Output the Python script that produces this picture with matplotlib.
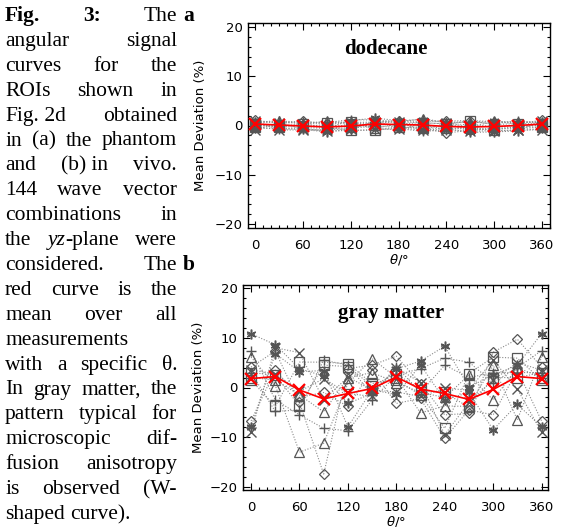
import numpy as np
import matplotlib
matplotlib.use('Agg')
import matplotlib.pyplot as plt
from matplotlib.ticker import MultipleLocator
from matplotlib.transforms import IdentityTransform

# angles (deg)
theta = [0, 30, 60, 90, 120, 150, 180, 210, 240, 270, 300, 330, 360]

# marker of each single curve (IDL style symbols)
markers = ['ast', 'ast', '+', '+', 'D', 'D', '^', '^', 's', 's', 'x', 'x']

# (a) dodecane phantom, single curves (%)
dodecane = [
    [0.8, 0.6, 0.5, -0.5, 1.0, 1.5, 1.0, 1.2, 0.6, -0.4, 0.9, 0.5, 0.8],
    [-0.6, -0.5, -0.8, -1.3, -0.8, 0.9, -0.5, -0.9, -0.7, -1.4, -1.3, -1.1, -0.6],
    [0.5, 0.9, 0.7, 0.6, 1.2, 1.1, 0.8, 0.5, 0.4, 0.7, 0.4, 0.9, 0.5],
    [-0.3, -0.8, -0.6, -1.1, -1.0, -0.9, -0.6, -1.2, -0.9, -1.0, -0.6, -0.7, -0.3],
    [1.1, 0.4, 0.9, 0.3, 0.6, 0.7, 1.0, 0.8, 0.9, 1.0, 0.8, 0.3, 1.1],
    [0.2, -0.2, -0.4, -0.6, -0.5, -0.2, -0.3, -0.6, -1.5, -1.0, -0.5, -0.4, 0.2],
    [0.6, 1.0, 0.3, 0.9, 0.4, 0.5, 0.7, 1.4, 0.6, 0.8, 0.7, 0.8, 0.6],
    [-0.1, 0.2, -0.2, 0.2, -0.3, 0.1, 0.2, -0.2, -0.1, 0.3, -0.3, 0.1, -0.1],
    [0.3, -0.3, 0.4, 0.5, 0.8, -0.5, 0.3, 0.6, 0.3, 0.9, 0.2, 0.4, 0.3],
    [-0.4, 0.0, -0.1, -0.4, -1.0, -0.9, -0.3, -0.5, -0.6, -0.5, -0.9, -0.2, -0.4],
    [0.9, -0.9, -0.9, -0.8, -0.7, 0.8, 0.7, -1.0, 0.5, -1.2, -1.0, -1.0, 0.9],
    [-0.9, 0.5, -0.7, -1.2, 0.6, -0.7, -0.8, 0.3, -0.9, -0.2, -1.2, -0.9, -0.9],
]
dodecane_mean = [0.3, 0.1, -0.1, -0.3, -0.1, 0.3, 0.2, 0.1, -0.2, -0.3, -0.2, 0.0, 0.3]

# (b) gray matter in vivo, single curves (%)
gray_matter = [
    [10.8, 8.6, 3.8, 2.3, -3.2, -1.2, 3.8, 5.3, 8.3, 0.1, 2.5, 4.5, 10.8],
    [-7.9, 6.8, 3.2, 3.4, -7.9, -0.5, -1.4, 4.5, -2.5, -1.0, -8.5, -3.4, -7.9],
    [7.4, -2.5, -5.5, -8.2, -8.7, -2.5, 2.5, 3.8, 5.9, 5.1, 1.0, 4.0, 7.4],
    [3.0, -4.8, -4.5, 5.5, 4.5, -1.5, 4.2, -1.0, 4.5, 2.0, 3.0, 3.0, 3.0],
    [4.1, 7.3, -3.0, -17.4, 3.8, 4.5, 6.3, 0.8, -5.5, -5.2, 7.1, 9.7, 4.1],
    [-6.7, 3.5, -2.0, -1.0, -3.8, 3.5, -3.2, -2.2, -10.2, -4.5, -5.5, 3.5, -6.7],
    [6.1, 0.4, -13.0, -11.2, 0.8, 5.8, 2.0, -5.1, -3.7, -3.8, 4.5, -6.5, 6.1],
    [2.0, 1.5, -1.5, -4.9, 2.0, 3.0, 1.0, -1.0, -2.0, 2.5, -2.5, 4.0, 2.0],
    [1.5, -3.8, 5.1, 5.1, 4.8, 0.8, 1.5, -1.5, -8.2, 2.8, 6.1, 5.9, 1.5],
    [3.0, 2.5, -3.7, 4.5, 4.2, 0.3, 2.8, -0.5, -1.0, -4.0, 2.0, 2.0, 3.0],
    [-9.0, 8.0, 7.0, -2.5, 2.1, -0.5, -0.9, -1.8, -0.2, -0.5, 5.5, -0.3, -9.0],
    [3.5, 2.8, -0.8, 1.8, -1.2, -1.8, 4.0, 1.0, -9.5, -3.0, 1.5, 5.0, 3.5],
]
gray_mean = [1.8, 2.2, -0.5, -2.3, -1.2, -0.2, 2.1, -0.3, -1.2, -2.4, -0.4, 2.2, 1.8]

caption = [
    ("*Fig. *3: The", True),
    ("angular signal", True),
    ("curves for the", True),
    ("ROIs shown in", True),
    ("Fig.~2d obtained", True),
    ("in (a) the phantom", True),
    ("and (b)~in vivo.", True),
    ("144 wave vector", True),
    ("combinations in", True),
    ("the /yz~-plane were", True),
    ("considered. The", True),
    ("red curve is the", True),
    ("mean over all", True),
    ("measurements", False),
    ("with a specific \u03b8.", True),
    ("In gray matter, the", True),
    ("pattern typical for", True),
    ("microscopic dif-", True),
    ("fusion anisotropy", True),
    ("is observed (W-", True),
    ("shaped curve).", False),
]

W, H = 567, 527
fig = plt.figure(figsize=(W / 100, H / 100), dpi=100)
renderer = fig.canvas.get_renderer()

serif = 'Liberation Serif'
cap_size = 15.5


def seg_props(seg):
    if seg.startswith('*'):
        return seg[1:], dict(weight='bold', style='normal')
    if seg.startswith('/'):
        return seg[1:], dict(weight='normal', style='italic')
    return seg, dict(weight='normal', style='normal')


def draw_line(text, justify, baseline, x0=5, x1=177):
    # words split on spaces; "~" glues segments (with a space unless next starts with "-")
    pieces = [[s for s in w.split('~') if s] for w in text.split(' ')]
    items = []
    widths = []
    for segs in pieces:
        ws = []
        group = []
        for k, s in enumerate(segs):
            txt, props = seg_props(s)
            if k > 0 and not txt.startswith('-'):
                txt = ' ' + txt
            t = fig.text(0, 0, txt, transform=IdentityTransform(), family=serif,
                         fontsize=cap_size, va='baseline', ha='left', **props)
            ws.append(t.get_window_extent(renderer).width)
            group.append(t)
        items.append((group, ws))
        widths.append(sum(ws))
    space = 0.25 * cap_size * 100 / 72
    if justify and len(items) > 1:
        gap = max(space * 0.8, (x1 - x0 - sum(widths)) / (len(items) - 1))
    else:
        gap = space
    x = x0
    yb = H - baseline
    for group, ws in items:
        for t, w in zip(group, ws):
            t.set_position((x, yb))
            x += w
        x += gap


for i, (line, just) in enumerate(caption):
    draw_line(line, just, 21 + i * 24.9)

# panel letters
fig.text(183, H - 21, 'a', transform=IdentityTransform(), family=serif,
         fontsize=cap_size, weight='bold', va='baseline')
fig.text(183, H - (21 + 10 * 24.9), 'b', transform=IdentityTransform(), family=serif,
         fontsize=cap_size, weight='bold', va='baseline')


def draw_marker(ax, x, y, m, color, ms, zorder):
    if m == 'ast':
        ax.plot(x, y, linestyle='none', marker=(6, 2, 0), ms=ms, mew=1.1,
                color=color, zorder=zorder)
        ax.plot(x, y, linestyle='none', marker='_', ms=ms * 0.9, mew=1.1,
                color=color, zorder=zorder)
    elif m in ('+', 'x'):
        ax.plot(x, y, linestyle='none', marker=m, ms=ms, mew=1.0,
                color=color, zorder=zorder)
    else:
        ax.plot(x, y, linestyle='none', marker=m, ms=ms * (0.8 if m == 'D' else 1.0),
                mew=0.9, mfc='none', mec=color, zorder=zorder)


def panel(rect, curves, mean, title, title_xy, xlim, ylim, ylab_x):
    ax = fig.add_axes(rect)
    for vals in curves:
        ax.plot(theta, vals, linestyle=(0, (1, 1.5)), lw=0.8, color='#8a8a8a', zorder=2)
    for vals, m in zip(curves, markers):
        draw_marker(ax, theta, vals, m, '#555555', 7, 3)
    ax.plot(theta, mean, color='#ff0000', lw=1.2, marker='x', ms=8, mew=1.6, zorder=5)

    ax.set_xlim(*xlim)
    ax.set_ylim(*ylim)
    ax.set_xticks([0, 60, 120, 180, 240, 300, 360])
    ax.set_yticks([-20, -10, 0, 10, 20])
    ax.xaxis.set_minor_locator(MultipleLocator(10))
    ax.yaxis.set_minor_locator(MultipleLocator(2))
    ax.tick_params(which='both', direction='in', top=True, right=True,
                   labelsize=9.5, width=0.8)
    ax.tick_params(which='major', length=5)
    ax.tick_params(which='minor', length=2.5)
    ax.tick_params(axis='x', pad=8)
    ax.tick_params(axis='y', pad=4)
    for sp in ax.spines.values():
        sp.set_linewidth(1.0)
    ax.set_ylabel('Mean Deviation (%)', fontsize=9.5)
    ax.yaxis.set_label_coords(ylab_x, 0.5)
    ax.set_xlabel(r'$\theta$/°', fontsize=9.5, labelpad=0)
    ax.text(title_xy[0], title_xy[1], title, transform=ax.transAxes, family=serif,
            weight='bold', fontsize=15, ha='center', va='center')
    return ax


panel([248 / W, 1 - 228 / H, 302 / W, 205 / H], dodecane, dodecane_mean,
      'dodecane', (0.455, 0.873), (-9, 370), (-20.8, 20.8), -0.135)
panel([243 / W, 1 - 490 / H, 305 / W, 205 / H], gray_matter, gray_mean,
      'gray matter', (0.487, 0.863), (-10, 368), (-20.6, 20.6), -0.125)

fig.savefig('out.png', dpi=100)
